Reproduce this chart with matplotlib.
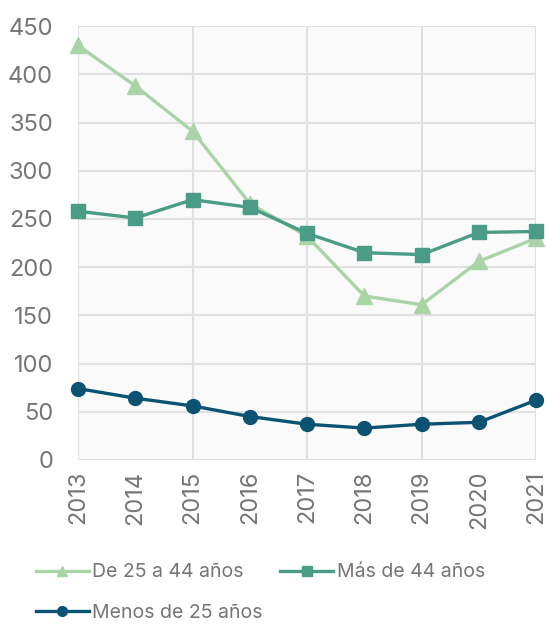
import matplotlib.pyplot as plt

years = [2013, 2014, 2015, 2016, 2017, 2018, 2019, 2020, 2021]
de_25_44 = [430, 388, 341, 266, 232, 170, 161, 206, 230]
mas_44 = [258, 251, 270, 262, 235, 215, 213, 236, 237]
menos_25 = [74, 64, 56, 45, 37, 33, 37, 39, 62]

c_light = '#a9d4a6'
c_teal = '#4a9c86'
c_navy = '#0b5273'
c_text = '#757575'

plt.rcParams['font.family'] = ['Inter', 'DejaVu Sans']

fig = plt.figure(figsize=(5.46, 6.24), dpi=100)
ax = fig.add_axes([0.143, 0.263, 0.839, 0.695])
ax.set_facecolor('#fafafa')

ax.plot(years, de_25_44, color=c_light, lw=2.4, marker='^', ms=11, label='De 25 a 44 años', clip_on=False, zorder=3)
ax.plot(years, mas_44, color=c_teal, lw=2.4, marker='s', ms=10, label='Más de 44 años', clip_on=False, zorder=4)
ax.plot(years, menos_25, color=c_navy, lw=2.4, marker='o', ms=10, label='Menos de 25 años', clip_on=False, zorder=5)

ax.set_xlim(2013, 2021)
ax.set_ylim(0, 450)
ax.set_yticks(range(0, 451, 50))
ax.set_xticks(years)
ax.set_xticklabels([str(y) for y in years], rotation=90)

for s in ax.spines.values():
    s.set_visible(False)
ax.tick_params(length=0, labelsize=17, labelcolor=c_text, pad=8)
ax.tick_params(axis='y', pad=18)
ax.set_axisbelow(True)
ax.grid(axis='y', color='#e0e0e0', lw=1.5)
for x in [2013, 2015, 2017, 2019, 2021]:
    ax.axvline(x, color='#e0e0e0', lw=1.5, zorder=0)

h, l = ax.get_legend_handles_labels()
order = [0, 2, 1]
fig.legend([h[i] for i in order], [l[i] for i in order], loc='upper left',
           bbox_to_anchor=(0.066, 0.097), ncol=2, frameon=False,
           fontsize=14, labelcolor=c_text, markerscale=0.7, handlelength=2.7,
           handletextpad=0.2, columnspacing=0.9, labelspacing=1.15,
           borderaxespad=0, borderpad=0)

fig.savefig('out.png', dpi=100)
